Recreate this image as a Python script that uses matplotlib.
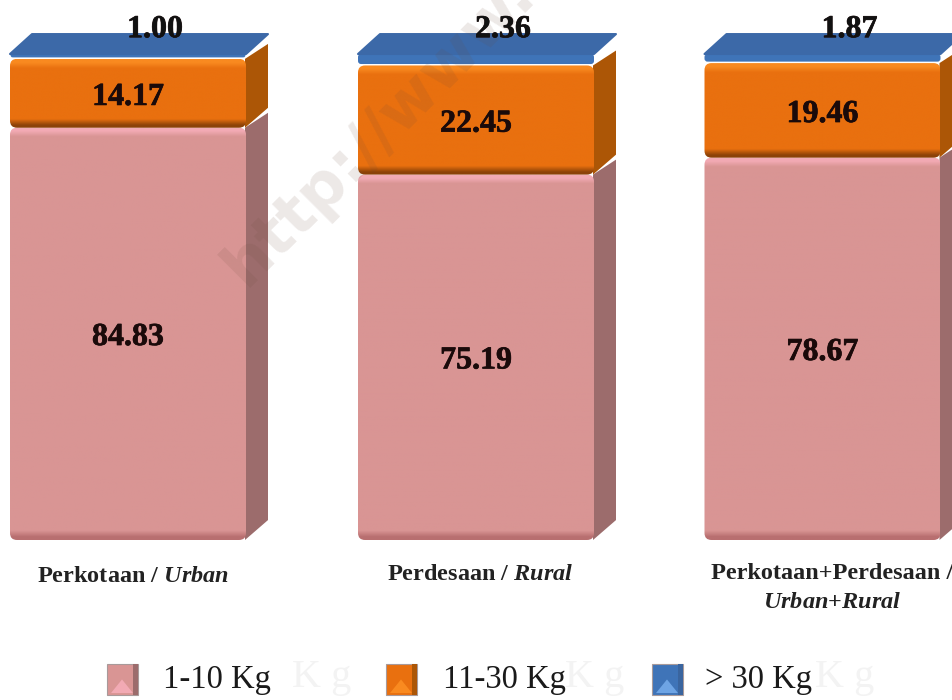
import matplotlib
matplotlib.use('Agg')
import matplotlib.pyplot as plt
import matplotlib.patheffects as pe
import numpy as np
from matplotlib.colors import to_rgb
from matplotlib.patches import FancyBboxPatch, Polygon, Rectangle

plt.rcParams['font.family'] = ['Liberation Serif', 'DejaVu Serif']
plt.rcParams['mathtext.fontset'] = 'custom'
plt.rcParams['mathtext.it'] = 'Liberation Serif:bold:italic'
plt.rcParams['mathtext.rm'] = 'Liberation Serif:bold'

categories = ['Perkotaan / $\\mathit{Urban}$', 'Perdesaan / $\\mathit{Rural}$',
              'Perkotaan+Perdesaan /\n$\\mathit{Urban{+}Rural}$']
light = [84.83, 75.19, 78.67]
middle = [14.17, 22.45, 19.46]
heavy = [1.00, 2.36, 1.87]
legend_names = ['1-10 Kg', '11-30 Kg', '> 30 Kg']

centers = [128, 476, 822.5]
bar_width = 236
depth_x = 22
depth_y = 4.1
px_per_unit = 4.86

front_colors = ['#d99594', '#e9700f', '#3f74b8']
side_colors = ['#9c6c6c', '#ac5606', '#3a659f']
top_colors = ['#e8b0b0', '#f08a30', '#3c69a8']
hi_colors = ['#f2aab4', '#f98a20', '#6ea4e4']
lo_colors = ['#b86f70', '#8c4208', '#2f5288']

fig = plt.figure(figsize=(9.53, 7.0), dpi=100)
ax = fig.add_axes([0, 0, 1, 1])
ax.set_xlim(0, 953)
# value 0 sits at y=540 px and 100 at y=54 px
ax.set_ylim(-160 / px_per_unit, 540 / px_per_unit)
ax.axis('off')


def front_face(x0, y0, h, k):
    # vertical ramp with a lit top edge and a shaded bottom edge, 7 px each
    edge = 7 / (h * px_per_unit)
    stops = [0, edge * 0.4, edge * 1.3, 1 - edge * 1.3, 1 - edge * 0.5, 1]
    base, hi, lo = to_rgb(front_colors[k]), to_rgb(hi_colors[k]), to_rgb(lo_colors[k])
    ramp = np.array([lo, lo, base, base, hi, hi])
    pos = np.linspace(0, 1, 400)
    img = np.stack([np.interp(pos, stops, ramp[:, i]) for i in range(3)], axis=1)
    box = FancyBboxPatch((x0, y0), bar_width, h, boxstyle='round,pad=0,rounding_size=7',
                         mutation_aspect=1 / px_per_unit, fc='none', ec='none', zorder=3)
    ax.add_patch(box)
    im = ax.imshow(img[:, None, :], extent=[x0, x0 + bar_width, y0, y0 + h], origin='lower',
                   aspect='auto', zorder=3)
    im.set_clip_path(box)


for i, c in enumerate(centers):
    x0 = c - bar_width / 2
    x1 = x0 + bar_width
    bottom = 0
    for k, values in enumerate([light, middle]):
        top = bottom + values[i]
        ax.add_patch(Polygon([(x1 - 1, bottom), (x1 + depth_x, bottom + depth_y),
                              (x1 + depth_x, top + depth_y * 0.75), (x1 - 1, top)],
                             fc=side_colors[k], ec='none', zorder=2))
        front_face(x0, bottom, values[i], k)
        bottom = top

    # thin rounded plate for the top class
    plate_low = bottom + 0.3
    plate_top = bottom + heavy[i]
    ax.add_patch(FancyBboxPatch((x0, plate_low), bar_width, max(plate_top - plate_low, 0.3),
                                boxstyle='round,pad=0,rounding_size=3',
                                mutation_aspect=1 / px_per_unit,
                                fc=front_colors[2], ec='none', zorder=4))
    ax.add_patch(Polygon([(x0, plate_top), (x0 + depth_x, plate_top + depth_y),
                          (x1 + depth_x, plate_top + depth_y), (x1, plate_top)],
                         fc=top_colors[2], ec=top_colors[2], lw=1.5, joinstyle='round', zorder=4))

    number_fx = [pe.withStroke(linewidth=0.5, foreground='#1a0a0a')]
    ax.text(c, light[i] / 2 - 0.75, f'{light[i]:.2f}', ha='center', va='center',
            fontsize=23, fontweight='bold', color='#1a0a0a', zorder=6, path_effects=number_fx)
    ax.text(c, light[i] + middle[i] / 2 - 0.85, f'{middle[i]:.2f}', ha='center', va='center',
            fontsize=23, fontweight='bold', color='#1a0a0a', zorder=6, path_effects=number_fx)
    ax.text(c + 27, 105.0, f'{heavy[i]:.2f}', ha='center', va='center',
            fontsize=23, fontweight='bold', color='#111111', zorder=6, path_effects=number_fx)

label_x = [133, 480, 832]
label_y = [-7.6, -7.2, -9.8]
for x, name, y in zip(label_x, categories, label_y):
    ax.text(x, y, name, ha='center', va='center', fontsize=17.5, fontweight='bold',
            color='#222222', linespacing=1.5, zorder=6)

# faint site address running across the chart
ax.text(246, -288 / px_per_unit + 540 / px_per_unit, 'http://www.', rotation=45,
        rotation_mode='anchor', ha='left', va='baseline', fontsize=45, fontweight='bold',
        family='DejaVu Sans', color='#6b4a3a', alpha=0.12, zorder=5)

# legend swatches and names
swatch_x = [107, 386, 652]
text_x = [163, 443, 705]
ghost_x = [322, 595, 845]
swatch_y = -155 / px_per_unit
swatch_size = 31
for k in range(3):
    sx = swatch_x[k]
    ax.text(ghost_x[k], swatch_y + 3.6, 'K g', ha='center', va='center', fontsize=29,
            color='#f3f3f3', zorder=1)
    ax.add_patch(Rectangle((sx, swatch_y), swatch_size, swatch_size / px_per_unit,
                           fc=front_colors[k], ec='#a89a9a', lw=0.8, zorder=5))
    ax.add_patch(Rectangle((sx + swatch_size - 5, swatch_y), 5, swatch_size / px_per_unit,
                           fc=side_colors[k], ec='none', zorder=5))
    ax.add_patch(Polygon([(sx + 4, swatch_y + 0.4), (sx + 15, swatch_y + 3.2),
                          (sx + 26, swatch_y + 0.4)], fc=hi_colors[k], ec='none', zorder=6))
    ax.text(text_x[k], swatch_y + 3.2, legend_names[k], ha='left', va='center', fontsize=23.5,
            color='#1a1a1a', zorder=6)

fig.savefig('out.png', dpi=100)
